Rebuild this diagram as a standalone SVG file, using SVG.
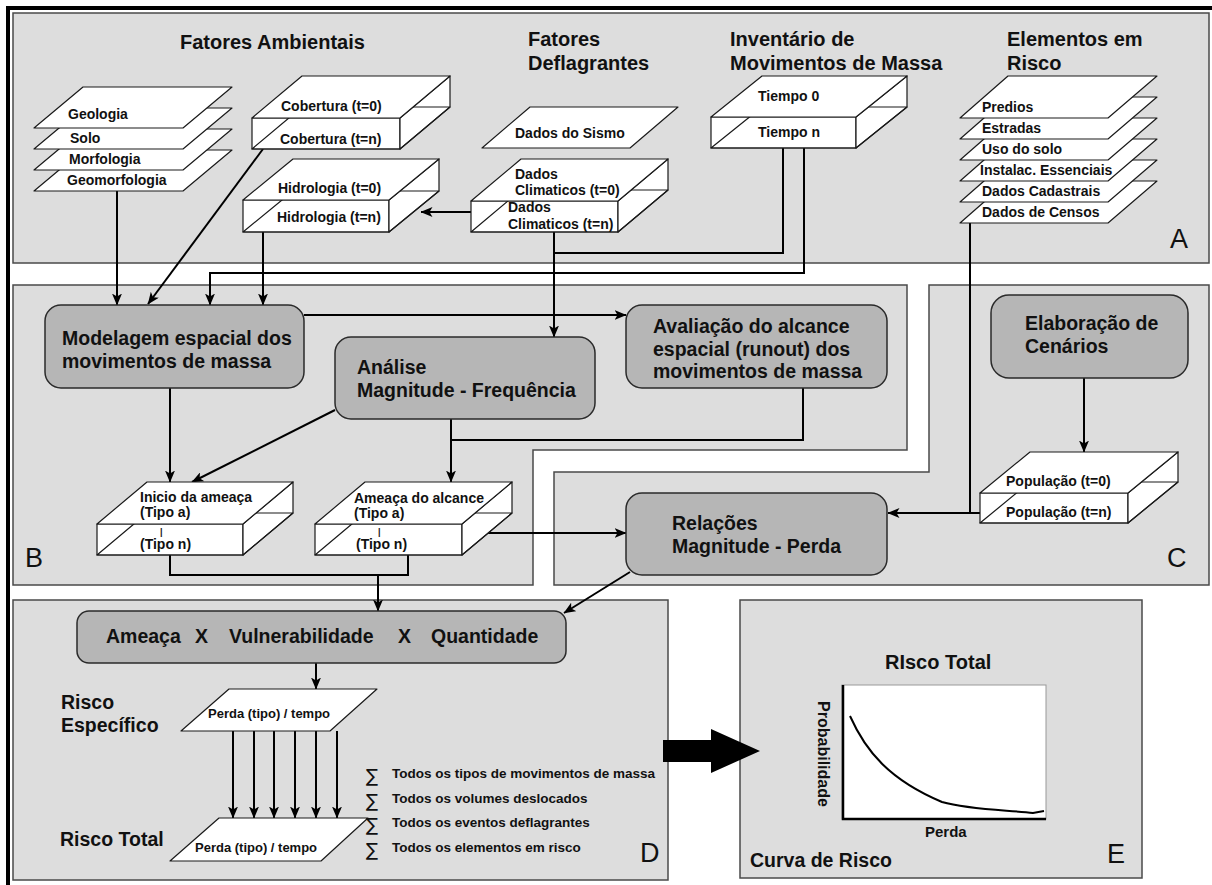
<svg xmlns="http://www.w3.org/2000/svg" width="1212" height="885" viewBox="0 0 1212 885">
<defs>
<style>
.panel{fill:#dddddd;stroke:#4a4a4a;stroke-width:1.5}
.box{fill:#b6b6b6;stroke:#2a2a2a;stroke-width:1.5}
.sh{fill:#fff;stroke:#1a1a1a;stroke-width:1.2;stroke-linejoin:round}
.ln{fill:none;stroke:#1a1a1a;stroke-width:1.2;stroke-linejoin:round}
.c{fill:none;stroke:#000;stroke-width:2}
.ca{fill:none;stroke:#000;stroke-width:2;marker-end:url(#ah)}
text{font-family:"Liberation Sans",Arial,sans-serif;fill:#111}
.tt{font-size:20px;font-weight:bold}
.bt{font-size:19.5px;font-weight:bold}
.st{font-size:14px;font-weight:bold}
.sm{font-size:13.5px;font-weight:bold}
.sg{font-family:"DejaVu Sans",sans-serif;font-size:18px}
.big{font-size:27px}
</style>
<marker id="ah" viewBox="0 0 12 10" refX="11.5" refY="5" markerWidth="12" markerHeight="10" markerUnits="userSpaceOnUse" orient="auto">
<path d="M0,0 L12,5 L0,10 L3,5 z" fill="#000"/>
</marker>
</defs>
<rect width="1212" height="885" fill="#fff"/>
<path d="M8,885 V8 H1212" fill="none" stroke="#000" stroke-width="4"/>

<!-- panels -->
<g id="panel-A">
<rect class="panel" x="13" y="13" width="1196" height="250"/>
<text class="big" x="1170" y="248">A</text>
</g>
<g id="panel-B">
<path class="panel" d="M13,285 H907 V450 H533 V585 H13 Z"/>
<text class="big" x="25" y="567">B</text>
</g>
<g id="panel-C">
<path class="panel" d="M929,285 H1209 V585 H554 V472 H929 Z"/>
<text class="big" x="1167" y="567">C</text>
</g>
<g id="panel-D">
<rect class="panel" x="13" y="600" width="655" height="280"/>
<text class="big" x="640" y="862">D</text>
</g>
<g id="panel-E">
<rect class="panel" x="740" y="600" width="402" height="278"/>
<text class="big" x="1107" y="863">E</text>
</g>

<!-- titles -->
<g id="title-ambientais"><text class="tt" x="180" y="49">Fatores Ambientais</text></g>
<g id="title-deflagrantes"><text class="tt" x="528" y="46">Fatores</text><text class="tt" x="528" y="70">Deflagrantes</text></g>
<g id="title-inventario"><text class="tt" x="730" y="46">Inventário de</text><text class="tt" x="730" y="70">Movimentos de Massa</text></g>
<g id="title-elementos"><text class="tt" x="1007" y="46">Elementos em</text><text class="tt" x="1007" y="70">Risco</text></g>

<!-- connectors -->
<g id="connectors">
<path class="ca" d="M117,191 V305"/>
<path class="ca" d="M263,149 L148,304"/>
<path class="ca" d="M804,148 V273 H210 V305"/>
<path class="ca" d="M263,232 V305"/>
<path class="c" d="M783,148 V253 H554"/>
<path class="ca" d="M554,232 V337"/>
<path class="ca" d="M471,212 H421"/>
<path class="ca" d="M304,315 H626"/>
<path class="ca" d="M170,388 V482"/>
<path class="ca" d="M335,410 L192,482"/>
<path class="ca" d="M451,419 V482"/>
<path class="c" d="M803,388 V440 H451"/>
<path class="ca" d="M488,533 H626"/>
<path class="c" d="M170,555 V575 H408 V555"/>
<path class="ca" d="M378,575 V611"/>
<path class="c" d="M970,222 V513"/>
<path class="ca" d="M980,513 H888"/>
<path class="ca" d="M1084,378 V452"/>
<path class="ca" d="M630,572 L564,613"/>
<path class="ca" d="M316,663 V689"/>
<path class="ca" d="M233,731 V818"/>
<path class="ca" d="M254,731 V818"/>
<path class="ca" d="M274,731 V818"/>
<path class="ca" d="M295,731 V818"/>
<path class="ca" d="M316,731 V818"/>
<path class="ca" d="M337,731 V818"/>
<path d="M663,740 H711 V729 L760,751 L711,773 V762 H663 Z" fill="#000"/>
</g>

<!-- A: environmental stack -->
<g id="stack-ambientais">
<polygon class="sh" points="83,150 232,150 183,191 34,191"/>
<polygon class="sh" points="83,129 232,129 183,170 34,170"/>
<polygon class="sh" points="83,108 232,108 183,149 34,149"/>
<polygon class="sh" points="83,87 232,87 183,128 34,128"/>
<text class="st" x="68" y="119">Geologia</text>
<text class="st" x="70" y="143">Solo</text>
<text class="st" x="69" y="164">Morfologia</text>
<text class="st" x="67" y="185">Geomorfologia</text>
</g>

<g id="cobertura">
<rect class="sh" x="252" y="118" width="148" height="31"/>
<polygon class="sh" points="400,118 450,76 450,107 400,149"/>
<polygon class="ln" points="252,149 302,107 450,107 400,149"/>
<polygon class="sh" points="252,118 400,118 450,76 302,76"/>
<text class="st" x="281" y="111">Cobertura (t=0)</text>
<text class="st" x="280" y="144">Cobertura (t=n)</text>
</g>

<g id="hidrologia">
<rect class="sh" x="243" y="200" width="146" height="32"/>
<polygon class="sh" points="389,200 439,159 439,191 389,232"/>
<polygon class="ln" points="243,232 293,191 439,191 389,232"/>
<polygon class="sh" points="243,200 389,200 439,159 293,159"/>
<text class="st" x="278" y="193">Hidrologia (t=0)</text>
<text class="st" x="277" y="222">Hidrologia (t=n)</text>
</g>

<g id="sismo">
<polygon class="sh" points="530,107 678,107 630,148 482,148"/>
<text class="st" x="515" y="138">Dados do Sismo</text>
</g>

<g id="climaticos">
<rect class="sh" x="471" y="201" width="147" height="31"/>
<polygon class="sh" points="618,201 668,159 668,190 618,232"/>
<polygon class="ln" points="471,232 521,190 668,190 618,232"/>
<polygon class="sh" points="471,201 618,201 668,159 521,159"/>
<text class="st" x="515" y="179">Dados</text>
<text class="st" x="515" y="195">Climaticos (t=0)</text>
<text class="st" x="508" y="212">Dados</text>
<text class="st" x="508" y="229">Climaticos (t=n)</text>
</g>

<g id="tiempo">
<rect class="sh" x="711" y="117" width="145" height="31"/>
<polygon class="sh" points="856,117 907,76 907,107 856,148"/>
<polygon class="ln" points="711,148 762,107 907,107 856,148"/>
<polygon class="sh" points="711,117 856,117 907,76 762,76"/>
<text class="st" x="758" y="101">Tiempo 0</text>
<text class="st" x="758" y="137">Tiempo n</text>
</g>

<g id="stack-elementos">
<polygon class="sh" points="1008,181 1157,181 1108,223 960,223"/>
<polygon class="sh" points="1008,160 1157,160 1108,202 960,202"/>
<polygon class="sh" points="1008,139 1157,139 1108,181 960,181"/>
<polygon class="sh" points="1008,118 1157,118 1108,160 960,160"/>
<polygon class="sh" points="1008,97 1157,97 1108,139 960,139"/>
<polygon class="sh" points="1008,76 1157,76 1108,118 960,118"/>
<text class="st" x="982" y="112">Predios</text>
<text class="st" x="982" y="133">Estradas</text>
<text class="st" x="982" y="154">Uso do solo</text>
<text class="st" x="980" y="175">Instalac. Essenciais</text>
<text class="st" x="982" y="196">Dados Cadastrais</text>
<text class="st" x="982" y="217">Dados de Censos</text>
</g>

<!-- B -->
<g id="modelagem">
<rect class="box" x="45" y="305" width="259" height="83" rx="16"/>
<text class="bt" x="62" y="345">Modelagem espacial dos</text>
<text class="bt" x="62" y="368">movimentos de massa</text>
</g>
<g id="analise">
<rect class="box" x="335" y="337" width="260" height="82" rx="16"/>
<text class="bt" x="357" y="374">Análise</text>
<text class="bt" x="357" y="397">Magnitude - Frequência</text>
</g>
<g id="avaliacao">
<rect class="box" x="626" y="305" width="261" height="83" rx="16"/>
<text class="bt" x="653" y="333">Avaliação do alcance</text>
<text class="bt" x="653" y="356">espacial (runout) dos</text>
<text class="bt" x="653" y="378">movimentos de massa</text>
</g>
<g id="inicio">
<rect class="sh" x="97" y="524" width="146" height="31"/>
<polygon class="sh" points="243,524 293,482 293,513 243,555"/>
<polygon class="ln" points="97,555 147,513 293,513 243,555"/>
<polygon class="sh" points="97,524 243,524 293,482 147,482"/>
<text class="st" x="140" y="502">Inicio da ameaça</text>
<text class="st" x="140" y="517">(Tipo a)</text>
<text x="160" y="535" font-size="9" font-weight="bold">|</text>
<text class="st" x="140" y="549">(Tipo n)</text>
</g>
<g id="ameaca-alcance">
<rect class="sh" x="315" y="524" width="147" height="31"/>
<polygon class="sh" points="462,524 512,482 512,513 462,555"/>
<polygon class="ln" points="315,555 365,513 512,513 462,555"/>
<polygon class="sh" points="315,524 462,524 512,482 365,482"/>
<text class="st" x="354" y="503">Ameaça do alcance</text>
<text class="st" x="354" y="518">(Tipo a)</text>
<text x="378" y="535" font-size="9" font-weight="bold">|</text>
<text class="st" x="356" y="549">(Tipo n)</text>
</g>

<!-- C -->
<g id="elaboracao">
<rect class="box" x="991" y="295" width="197" height="83" rx="18"/>
<text class="bt" x="1025" y="330">Elaboração de</text>
<text class="bt" x="1025" y="353">Cenários</text>
</g>
<g id="populacao">
<rect class="sh" x="980" y="493" width="148" height="30"/>
<polygon class="sh" points="1128,493 1178,452 1178,482 1128,523"/>
<polygon class="ln" points="980,523 1030,482 1178,482 1128,523"/>
<polygon class="sh" points="980,493 1128,493 1178,452 1030,452"/>
<text class="st" x="1006" y="486">População (t=0)</text>
<text class="st" x="1006" y="517">População (t=n)</text>
</g>
<g id="relacoes">
<rect class="box" x="626" y="493" width="261" height="82" rx="16"/>
<text class="bt" x="672" y="530">Relações</text>
<text class="bt" x="672" y="553">Magnitude - Perda</text>
</g>

<!-- D -->
<g id="ameaca-x">
<rect class="box" x="77" y="611" width="489" height="52" rx="12"/>
<text class="bt" y="643"><tspan x="106">Ameaça</tspan><tspan x="195">X</tspan><tspan x="229">Vulnerabilidade</tspan><tspan x="398">X</tspan><tspan x="431">Quantidade</tspan></text>
</g>
<g id="risco-especifico">
<text class="bt" x="61" y="709">Risco</text>
<text class="bt" x="61" y="732">Específico</text>
<polygon class="sh" points="229,689 377,689 330,731 181,731"/>
<text x="208" y="718" font-size="13" font-weight="bold">Perda (tipo) / tempo</text>
</g>
<g id="risco-total">
<text class="bt" x="60" y="846">Risco Total</text>
<polygon class="sh" points="219,818 368,818 321,861 170,861"/>
<text x="195" y="852" font-size="13" font-weight="bold">Perda (tipo) / tempo</text>
</g>
<g id="somatorios">
<text class="sg" x="366" y="782">∑</text>
<text class="sg" x="366" y="807">∑</text>
<text class="sg" x="366" y="831">∑</text>
<text class="sg" x="366" y="856">∑</text>
<text class="sm" x="392" y="778">Todos os tipos de movimentos de massa</text>
<text class="sm" x="392" y="803">Todos os volumes deslocados</text>
<text class="sm" x="392" y="827">Todos os eventos deflagrantes</text>
<text class="sm" x="392" y="852">Todos os elementos em risco</text>
</g>

<!-- E -->
<g id="curva-risco">
<text x="885" y="669" font-size="20" font-weight="bold">RIsco Total</text>
<rect x="842" y="685" width="204" height="134" fill="#fff" stroke="#999" stroke-width="1"/>
<path d="M843,685 V819 H1046" fill="none" stroke="#000" stroke-width="2.5"/>
<path d="M850,716 C866,752 890,780 942,802 C970,810 1010,810 1033,813 L1044,811" fill="none" stroke="#000" stroke-width="2"/>
<text transform="translate(818,754) rotate(90)" text-anchor="middle" font-size="16" font-weight="bold">Probabilidade</text>
<text x="925" y="837" font-size="15" font-weight="bold">Perda</text>
<text x="750" y="867" class="bt">Curva de Risco</text>
</g>
</svg>
